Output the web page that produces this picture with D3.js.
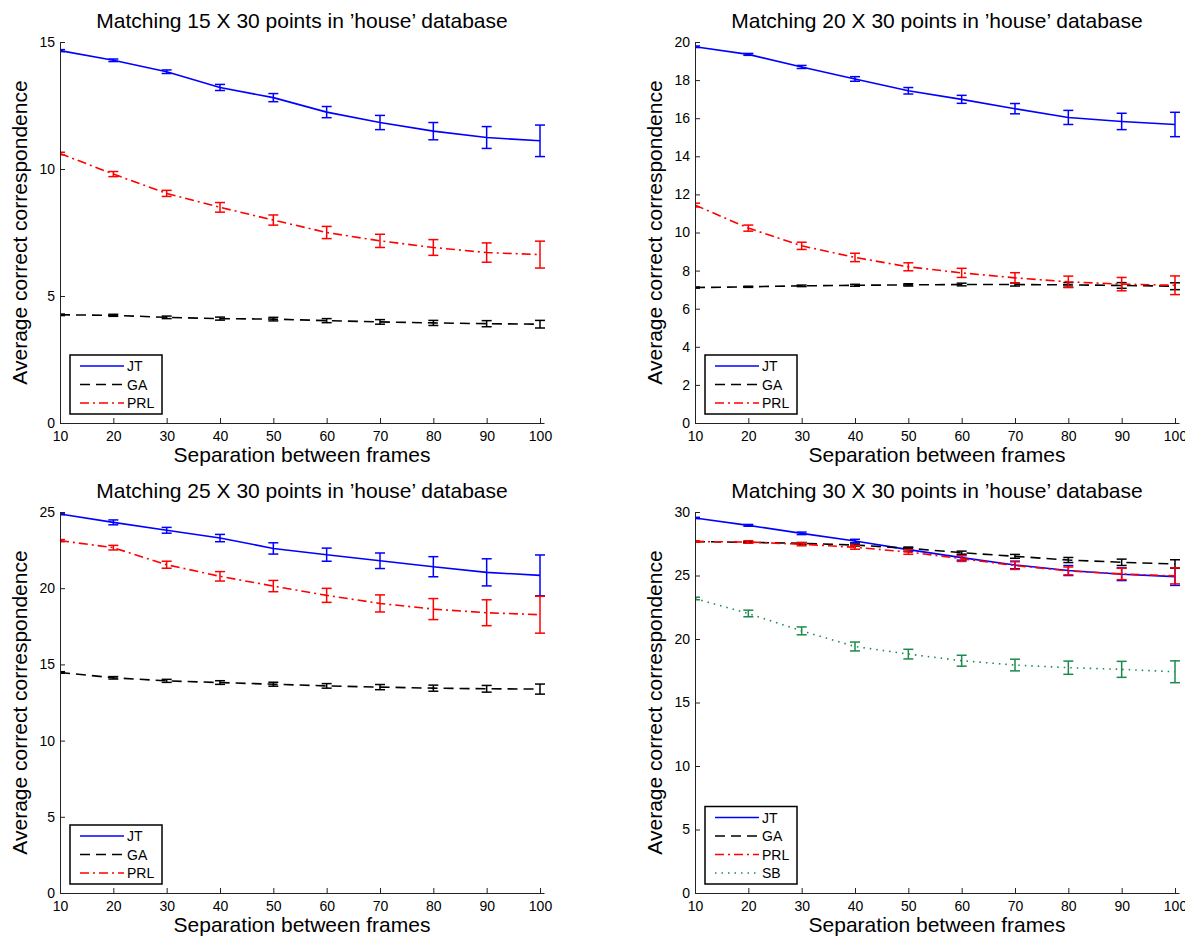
<!DOCTYPE html>
<html>
<head>
<meta charset="utf-8">
<script src="https://cdn.jsdelivr.net/npm/d3@7"></script>
<style>
  body { margin: 0; background: #fff; }
  text { font-family: "Liberation Sans", Arial, Helvetica, sans-serif; }
</style>
</head>
<body>
<script>
var width = 1185,
    height = 936;

// separation between frames (x axis)
var frames = [10, 20, 30, 40, 50, 60, 70, 80, 90, 100];

// 15 X 30
var jt15 = [14.66, 14.28, 13.83, 13.21, 12.81, 12.24, 11.83, 11.49, 11.24, 11.11];
var jt15Err = [0.04, 0.05, 0.07, 0.12, 0.16, 0.22, 0.28, 0.34, 0.43, 0.62];
var ga15 = [4.26, 4.24, 4.16, 4.11, 4.09, 4.03, 3.98, 3.94, 3.91, 3.89];
var ga15Err = [0.03, 0.04, 0.05, 0.06, 0.07, 0.08, 0.09, 0.10, 0.12, 0.15];
var prl15 = [10.61, 9.80, 9.04, 8.49, 7.99, 7.50, 7.17, 6.91, 6.71, 6.63];
var prl15Err = [0.05, 0.10, 0.12, 0.19, 0.20, 0.24, 0.26, 0.31, 0.38, 0.53];

// 20 X 30
var jt20 = [19.75, 19.35, 18.69, 18.06, 17.44, 16.99, 16.50, 16.04, 15.83, 15.67];
var jt20Err = [0.04, 0.05, 0.08, 0.12, 0.17, 0.21, 0.27, 0.37, 0.43, 0.64];
var ga20 = [7.11, 7.15, 7.20, 7.23, 7.25, 7.27, 7.27, 7.25, 7.22, 7.18];
var ga20Err = [0.03, 0.03, 0.04, 0.05, 0.06, 0.07, 0.08, 0.12, 0.15, 0.18];
var prl20 = [11.44, 10.23, 9.30, 8.69, 8.20, 7.88, 7.62, 7.41, 7.29, 7.23];
var prl20Err = [0.10, 0.16, 0.19, 0.22, 0.21, 0.24, 0.27, 0.30, 0.35, 0.49];

// 25 X 30
var jt25 = [24.87, 24.32, 23.80, 23.29, 22.61, 22.20, 21.80, 21.41, 21.04, 20.84];
var jt25Err = [0.05, 0.16, 0.19, 0.24, 0.37, 0.43, 0.51, 0.66, 0.89, 1.34];
var ga25 = [14.47, 14.12, 13.92, 13.81, 13.70, 13.59, 13.51, 13.44, 13.40, 13.38];
var ga25Err = [0.05, 0.08, 0.10, 0.12, 0.13, 0.15, 0.17, 0.20, 0.22, 0.33];
var prl25 = [23.12, 22.66, 21.54, 20.78, 20.14, 19.53, 19.00, 18.63, 18.39, 18.26];
var prl25Err = [0.07, 0.15, 0.23, 0.31, 0.37, 0.46, 0.56, 0.69, 0.85, 1.21];

// 30 X 30
var jt30 = [29.53, 28.95, 28.32, 27.72, 27.04, 26.41, 25.83, 25.39, 25.10, 24.91];
var jt30Err = [0.05, 0.07, 0.10, 0.13, 0.15, 0.20, 0.30, 0.39, 0.50, 0.69];
var ga30 = [27.67, 27.61, 27.53, 27.40, 27.14, 26.80, 26.51, 26.22, 26.04, 25.91];
var ga30Err = [0.03, 0.05, 0.07, 0.08, 0.10, 0.12, 0.15, 0.20, 0.25, 0.33];
var prl30 = [27.67, 27.64, 27.46, 27.22, 26.85, 26.33, 25.78, 25.36, 25.12, 24.97];
var prl30Err = [0.05, 0.10, 0.12, 0.15, 0.18, 0.22, 0.30, 0.31, 0.45, 0.63];
var sb30 = [23.19, 22.01, 20.64, 19.41, 18.81, 18.29, 17.95, 17.74, 17.61, 17.42];
var sb30Err = [0.10, 0.26, 0.31, 0.35, 0.38, 0.43, 0.46, 0.52, 0.63, 0.86];

var titles = [
  "Matching 15 X 30 points in \u2019house\u2019 database",
  "Matching 20 X 30 points in \u2019house\u2019 database",
  "Matching 25 X 30 points in \u2019house\u2019 database",
  "Matching 30 X 30 points in \u2019house\u2019 database"
];
var yMax = [15, 20, 25, 30];
var yTicks = [
  [0, 5, 10, 15],
  [0, 2, 4, 6, 8, 10, 12, 14, 16, 18, 20],
  [0, 5, 10, 15, 20, 25],
  [0, 5, 10, 15, 20, 25, 30]
];
var xTicks = frames;

var xLabel = "Separation between frames";
var yLabel = "Average correct correspondence";

// series styles
var styles = {
  JT:  { color: "#0000ff", dash: null },
  GA:  { color: "#000000", dash: "10,6" },
  PRL: { color: "#ff0000", dash: "9,4,2,4" },
  SB:  { color: "#1b8a4c", dash: "1.5,5" }
};

var panels = [
  { left: 60,  top: 42,  series: [["JT", jt15, jt15Err], ["GA", ga15, ga15Err], ["PRL", prl15, prl15Err]] },
  { left: 695, top: 42,  series: [["JT", jt20, jt20Err], ["GA", ga20, ga20Err], ["PRL", prl20, prl20Err]] },
  { left: 60,  top: 512, series: [["JT", jt25, jt25Err], ["GA", ga25, ga25Err], ["PRL", prl25, prl25Err]] },
  { left: 695, top: 512, series: [["JT", jt30, jt30Err], ["GA", ga30, ga30Err], ["PRL", prl30, prl30Err], ["SB", sb30, sb30Err]] }
];

var plotW = 484,
    plotH = 381;

var svg = d3.select("body").append("svg")
    .attr("width", width)
    .attr("height", height);

function drawPanel(p, i) {
  var g = svg.append("g").attr("transform", "translate(" + p.left + "," + p.top + ")");

  var x = d3.scaleLinear().domain([10, 100.75]).range([0, plotW]);
  var y = d3.scaleLinear().domain([0, yMax[i]]).range([plotH, 0]);

  var clipId = "clip" + i;
  g.append("clipPath").attr("id", clipId)
    .append("rect")
    .attr("x", 0).attr("y", -20)
    .attr("width", plotW + 20).attr("height", plotH + 40);

  var plot = g.append("g").attr("clip-path", "url(#" + clipId + ")");

  var line = d3.line()
    .x(function(d) { return x(d[0]); })
    .y(function(d) { return y(d[1]); });

  p.series.forEach(function(s) {
    var st = styles[s[0]];
    var pts = frames.map(function(f, k) { return [f, s[1][k], s[2][k]]; });

    plot.append("path")
      .datum(pts)
      .attr("d", line)
      .attr("fill", "none")
      .attr("stroke", st.color)
      .attr("stroke-width", 1.6)
      .attr("stroke-dasharray", st.dash);

    var eb = plot.append("g")
      .attr("stroke", st.color)
      .attr("stroke-width", 1.5)
      .attr("fill", "none");

    pts.forEach(function(d) {
      var cx = x(d[0]),
          y0 = y(d[1] - d[2]),
          y1 = y(d[1] + d[2]);
      eb.append("line").attr("x1", cx).attr("x2", cx).attr("y1", y0).attr("y2", y1);
      eb.append("line").attr("x1", cx - 5).attr("x2", cx + 5).attr("y1", y0).attr("y2", y0);
      eb.append("line").attr("x1", cx - 5).attr("x2", cx + 5).attr("y1", y1).attr("y2", y1);
    });
  });

  // axes (ticks point inward, like matlab)
  var xAxis = d3.axisBottom(x).tickValues(xTicks).tickSize(-5).tickSizeOuter(0).tickPadding(8);
  var yAxis = d3.axisLeft(y).tickValues(yTicks[i]).tickSize(-5).tickSizeOuter(0).tickPadding(5);

  var gx = g.append("g").attr("transform", "translate(0," + plotH + ")").call(xAxis);
  var gy = g.append("g").call(yAxis);

  [gx, gy].forEach(function(a) {
    a.select(".domain").attr("stroke", "#222").attr("stroke-width", 1);
    a.selectAll(".tick line").attr("stroke", "#222");
    a.selectAll(".tick text")
      .attr("fill", "#000")
      .style("font-size", "14px")
      .style("font-family", "'Liberation Sans', Arial, sans-serif");
  });

  // title + labels
  g.append("text")
    .attr("x", plotW / 2)
    .attr("y", -14)
    .attr("text-anchor", "middle")
    .style("font-size", "21px")
    .text(titles[i]);

  g.append("text")
    .attr("x", plotW / 2)
    .attr("y", plotH + 39)
    .attr("text-anchor", "middle")
    .style("font-size", "21px")
    .text(xLabel);

  g.append("text")
    .attr("transform", "translate(-33," + (plotH / 2) + ") rotate(-90)")
    .attr("text-anchor", "middle")
    .style("font-size", "21px")
    .text(yLabel);

  // legend
  var rowH = 18.5;
  var n = p.series.length;
  var legH = n * rowH + 3.5;
  var lg = g.append("g").attr("transform", "translate(10," + (plotH - 9 - legH) + ")");
  lg.append("rect")
    .attr("width", 92)
    .attr("height", legH)
    .attr("fill", "#fff")
    .attr("stroke", "#000")
    .attr("stroke-width", 1.5);

  p.series.forEach(function(s, k) {
    var st = styles[s[0]];
    var cy = 11 + k * rowH;
    lg.append("line")
      .attr("x1", 10).attr("x2", 54)
      .attr("y1", cy).attr("y2", cy)
      .attr("stroke", st.color)
      .attr("stroke-width", 1.6)
      .attr("stroke-dasharray", st.dash);
    lg.append("text")
      .attr("x", 57)
      .attr("y", cy + 5)
      .style("font-size", "14px")
      .text(s[0]);
  });
}

panels.forEach(drawPanel);
</script>
</body>
</html>
